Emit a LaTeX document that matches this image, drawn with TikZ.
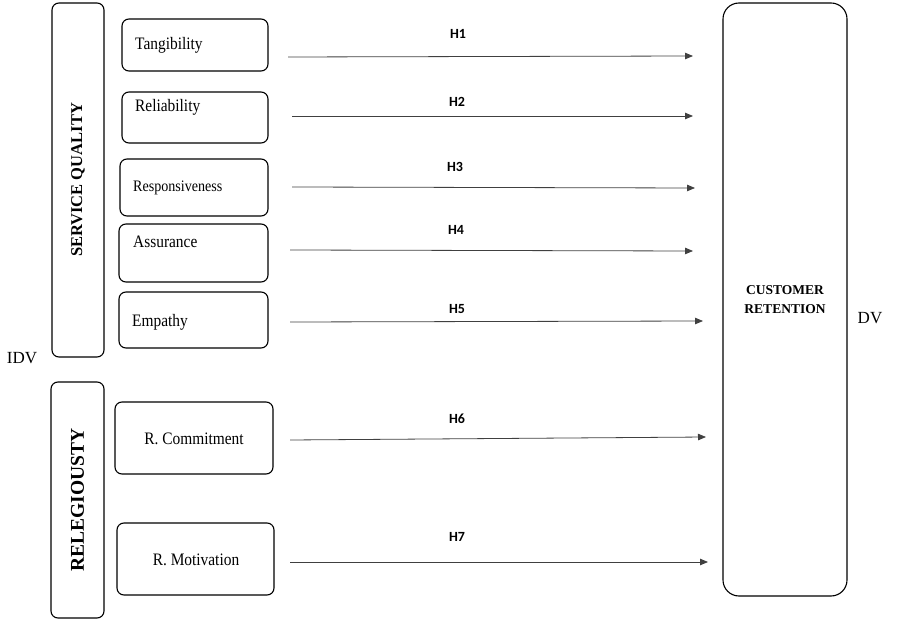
\documentclass[tikz,border=0pt]{standalone}
\usepackage{fontspec}
\setmainfont{Liberation Serif}
\newfontfamily\boxfont[FakeStretch=0.88]{Liberation Serif}
\newfontfamily\hfont{Carlito}
\usetikzlibrary{arrows.meta}
\begin{document}
\begin{tikzpicture}[x=1pt,y=-1pt,
  frame/.style={draw=black,line width=1.1pt,rounded corners=7pt,inner sep=0pt},
  itemtext/.style={font=\boxfont\fontsize{17.5}{19}\selectfont,inner sep=0pt},
  grouptext/.style={font=\bfseries\fontsize{16.5}{18}\selectfont,rotate=90,inner sep=0pt},
  hyp/.style={font=\hfont\bfseries\fontsize{14}{15}\selectfont,inner sep=0pt},
  link/.style={draw=black!75,line width=0.8pt,-{Triangle[length=8pt,width=6.5pt]}}]
\useasboundingbox (0,0) rectangle (916,620);
% group boxes
\node[frame,minimum width=52pt,minimum height=354pt] (sq) at (78,180) {};
\node[frame,minimum width=53pt,minimum height=236pt] (rel) at (77.5,500) {};
\node[grouptext] (sqt) at (sq.center) {SERVICE QUALITY};
\node[grouptext,font=\bfseries\fontsize{19.5}{21}\selectfont] (relt) at (rel.center) {RELEGIOUSTY};
% item boxes
\node[frame,minimum width=146pt,minimum height=52pt] (tan) at (195,45) {};
\node[frame,minimum width=146pt,minimum height=51pt] (reli) at (195,117.5) {};
\node[frame,minimum width=148pt,minimum height=57pt] (resp) at (194,187.5) {};
\node[frame,minimum width=149pt,minimum height=58pt] (ass) at (193.5,253) {};
\node[frame,minimum width=149pt,minimum height=56pt] (emp) at (193.5,320) {};
\node[frame,minimum width=158pt,minimum height=72pt] (com) at (194,438) {};
\node[frame,minimum width=157pt,minimum height=72pt] (mot) at (195.5,559) {};
\node[itemtext,anchor=west] (tant) at (135,45) {Tangibility};
\node[itemtext,anchor=west] (relit) at (135,107) {Reliability};
\node[itemtext,anchor=west,font=\boxfont\fontsize{16}{18}\selectfont] (respt) at (133,188) {Responsiveness};
\node[itemtext,anchor=west] (asst) at (133,242) {Assurance};
\node[itemtext,anchor=west] (empt) at (132,322) {Empathy};
\node[itemtext] (comt) at (194,439) {R. Commitment};
\node[itemtext] (mott) at (196,560) {R. Motivation};
% dependent variable
\node[frame,rounded corners=16pt,minimum width=124pt,minimum height=593pt] (cr) at (785,299.5) {};
\node[font=\bfseries\fontsize{13.5}{19}\selectfont,align=center,inner sep=0pt] (crt) at (785,300) {CUSTOMER\\RETENTION};
\node[font=\fontsize{17}{19}\selectfont,inner sep=0pt] (dv) at (870,318) {DV};
\node[font=\fontsize{17}{19}\selectfont,inner sep=0pt] (idv) at (22,358) {IDV};
% arrow endpoints
\coordinate (s1) at (288,57);  \coordinate (e1) at (693,56);
\coordinate (s2) at (292,116); \coordinate (e2) at (693,116);
\coordinate (s3) at (292,187); \coordinate (e3) at (695,188);
\coordinate (s4) at (290,250); \coordinate (e4) at (693,251);
\coordinate (s5) at (290,322); \coordinate (e5) at (703,321);
\coordinate (s6) at (290,440); \coordinate (e6) at (706,437);
\coordinate (s7) at (290,562); \coordinate (e7) at (708,562);
\draw[link] (s1) -- (e1);
\draw[link] (s2) -- (e2);
\draw[link] (s3) -- (e3);
\draw[link] (s4) -- (e4);
\draw[link] (s5) -- (e5);
\draw[link] (s6) -- (e6);
\draw[link] (s7) -- (e7);
\node[hyp] (h1) at (458,34) {H1};
\node[hyp] (h2) at (457,102) {H2};
\node[hyp] (h3) at (455,167) {H3};
\node[hyp] (h4) at (456,230) {H4};
\node[hyp] (h5) at (457,309) {H5};
\node[hyp] (h6) at (457,419) {H6};
\node[hyp] (h7) at (457,537) {H7};
\end{tikzpicture}
\end{document}
